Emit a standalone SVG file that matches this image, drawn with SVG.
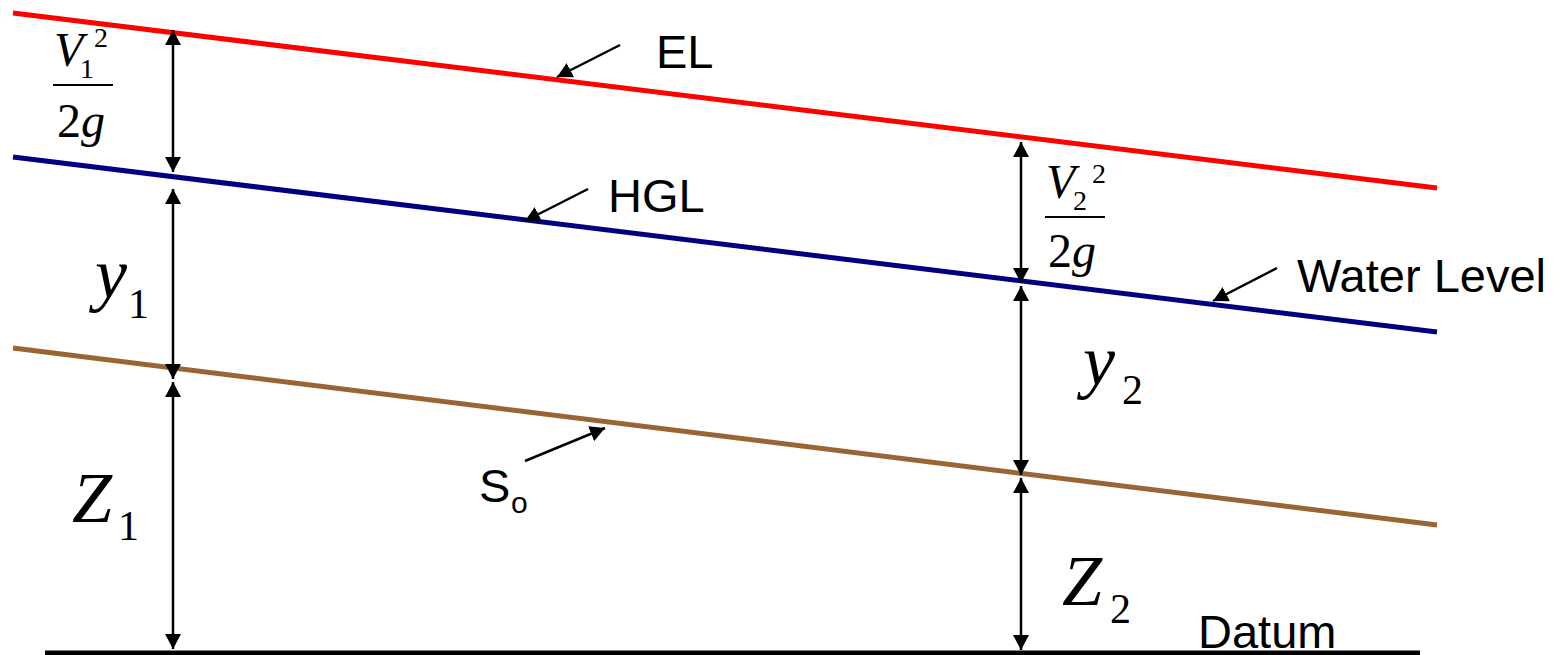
<svg xmlns="http://www.w3.org/2000/svg" width="1560" height="655" viewBox="0 0 1560 655">
<style>
.lbl{font-family:"Liberation Sans",Arial,sans-serif;font-size:47px;fill:#000}
.m{font-family:"Liberation Serif","Times New Roman",serif;fill:#000}
.it{font-style:italic}
.dim{stroke:#000;stroke-width:2.5;fill:none;marker-start:url(#ah);marker-end:url(#ah)}
.ptr{stroke:#000;stroke-width:2.5;fill:none;marker-end:url(#ah)}
.frac{stroke:#000;stroke-width:2}
</style>
<defs>
<marker id="ah" markerUnits="userSpaceOnUse" markerWidth="16" markerHeight="16" viewBox="0 0 16 16" refX="15" refY="8" orient="auto-start-reverse">
<path d="M0,0 L15,8 L0,16 z" fill="#000"/>
</marker>
</defs>
<rect width="1560" height="655" fill="#fff"/>
<g id="energy-line"><line x1="13" y1="13" x2="1437" y2="188" stroke="#ff0000" stroke-width="5"/></g>
<g id="hgl-line"><line x1="13" y1="157" x2="1437" y2="332" stroke="#000080" stroke-width="5"/></g>
<g id="bed-line"><line x1="13" y1="348" x2="1437" y2="525" stroke="#996633" stroke-width="5"/></g>
<g id="datum-line"><line x1="45" y1="653" x2="1420" y2="653" stroke="#000" stroke-width="5"/></g>
<g id="connectors">
<line class="dim" x1="173" y1="30" x2="173" y2="172"/>
<line class="dim" x1="173" y1="189" x2="173" y2="379"/>
<line class="dim" x1="173" y1="382" x2="173" y2="649"/>
<line class="dim" x1="1021" y1="142" x2="1021" y2="283"/>
<line class="dim" x1="1021" y1="286" x2="1021" y2="475"/>
<line class="dim" x1="1021" y1="478" x2="1021" y2="650"/>
<line class="ptr" x1="620" y1="45" x2="557" y2="77"/>
<line class="ptr" x1="588" y1="189" x2="525" y2="221"/>
<line class="ptr" x1="1277" y1="268" x2="1213" y2="301"/>
<line class="ptr" x1="525" y1="461" x2="605" y2="428"/>
</g>
<g id="label-el"><text class="lbl" x="656" y="68">EL</text></g>
<g id="label-hgl"><text class="lbl" x="608" y="212">HGL</text></g>
<g id="label-water"><text class="lbl" x="1297" y="292">Water Level</text></g>
<g id="label-datum"><text class="lbl" x="1198" y="648">Datum</text></g>
<g id="label-so"><text class="lbl" x="479" y="502">S</text><text class="lbl" x="511" y="513" style="font-size:30px">o</text></g>
<g id="label-v1">
<text class="m it" x="54" y="66" font-size="48">V</text>
<text class="m" x="80" y="78" font-size="28">1</text>
<text class="m" x="94" y="47" font-size="28">2</text>
<line class="frac" x1="53" y1="85" x2="113" y2="85"/>
<text class="m" x="57" y="137" font-size="48">2<tspan class="it">g</tspan></text>
</g>
<g id="label-v2">
<text class="m it" x="1046" y="198" font-size="48">V</text>
<text class="m" x="1073" y="210" font-size="28">2</text>
<text class="m" x="1092" y="183" font-size="28">2</text>
<line class="frac" x1="1045" y1="217" x2="1105" y2="217"/>
<text class="m" x="1048" y="267" font-size="48">2<tspan class="it">g</tspan></text>
</g>
<g id="label-y1"><text class="m it" x="95" y="298" font-size="72">y</text><text class="m" x="128" y="318" font-size="42">1</text></g>
<g id="label-z1"><text class="m it" x="72" y="522" font-size="72">Z</text><text class="m" x="118" y="540" font-size="42">1</text></g>
<g id="label-y2"><text class="m it" x="1083" y="385" font-size="72">y</text><text class="m" x="1122" y="404" font-size="42">2</text></g>
<g id="label-z2"><text class="m it" x="1062" y="605" font-size="72">Z</text><text class="m" x="1110" y="623" font-size="42">2</text></g>
</svg>
